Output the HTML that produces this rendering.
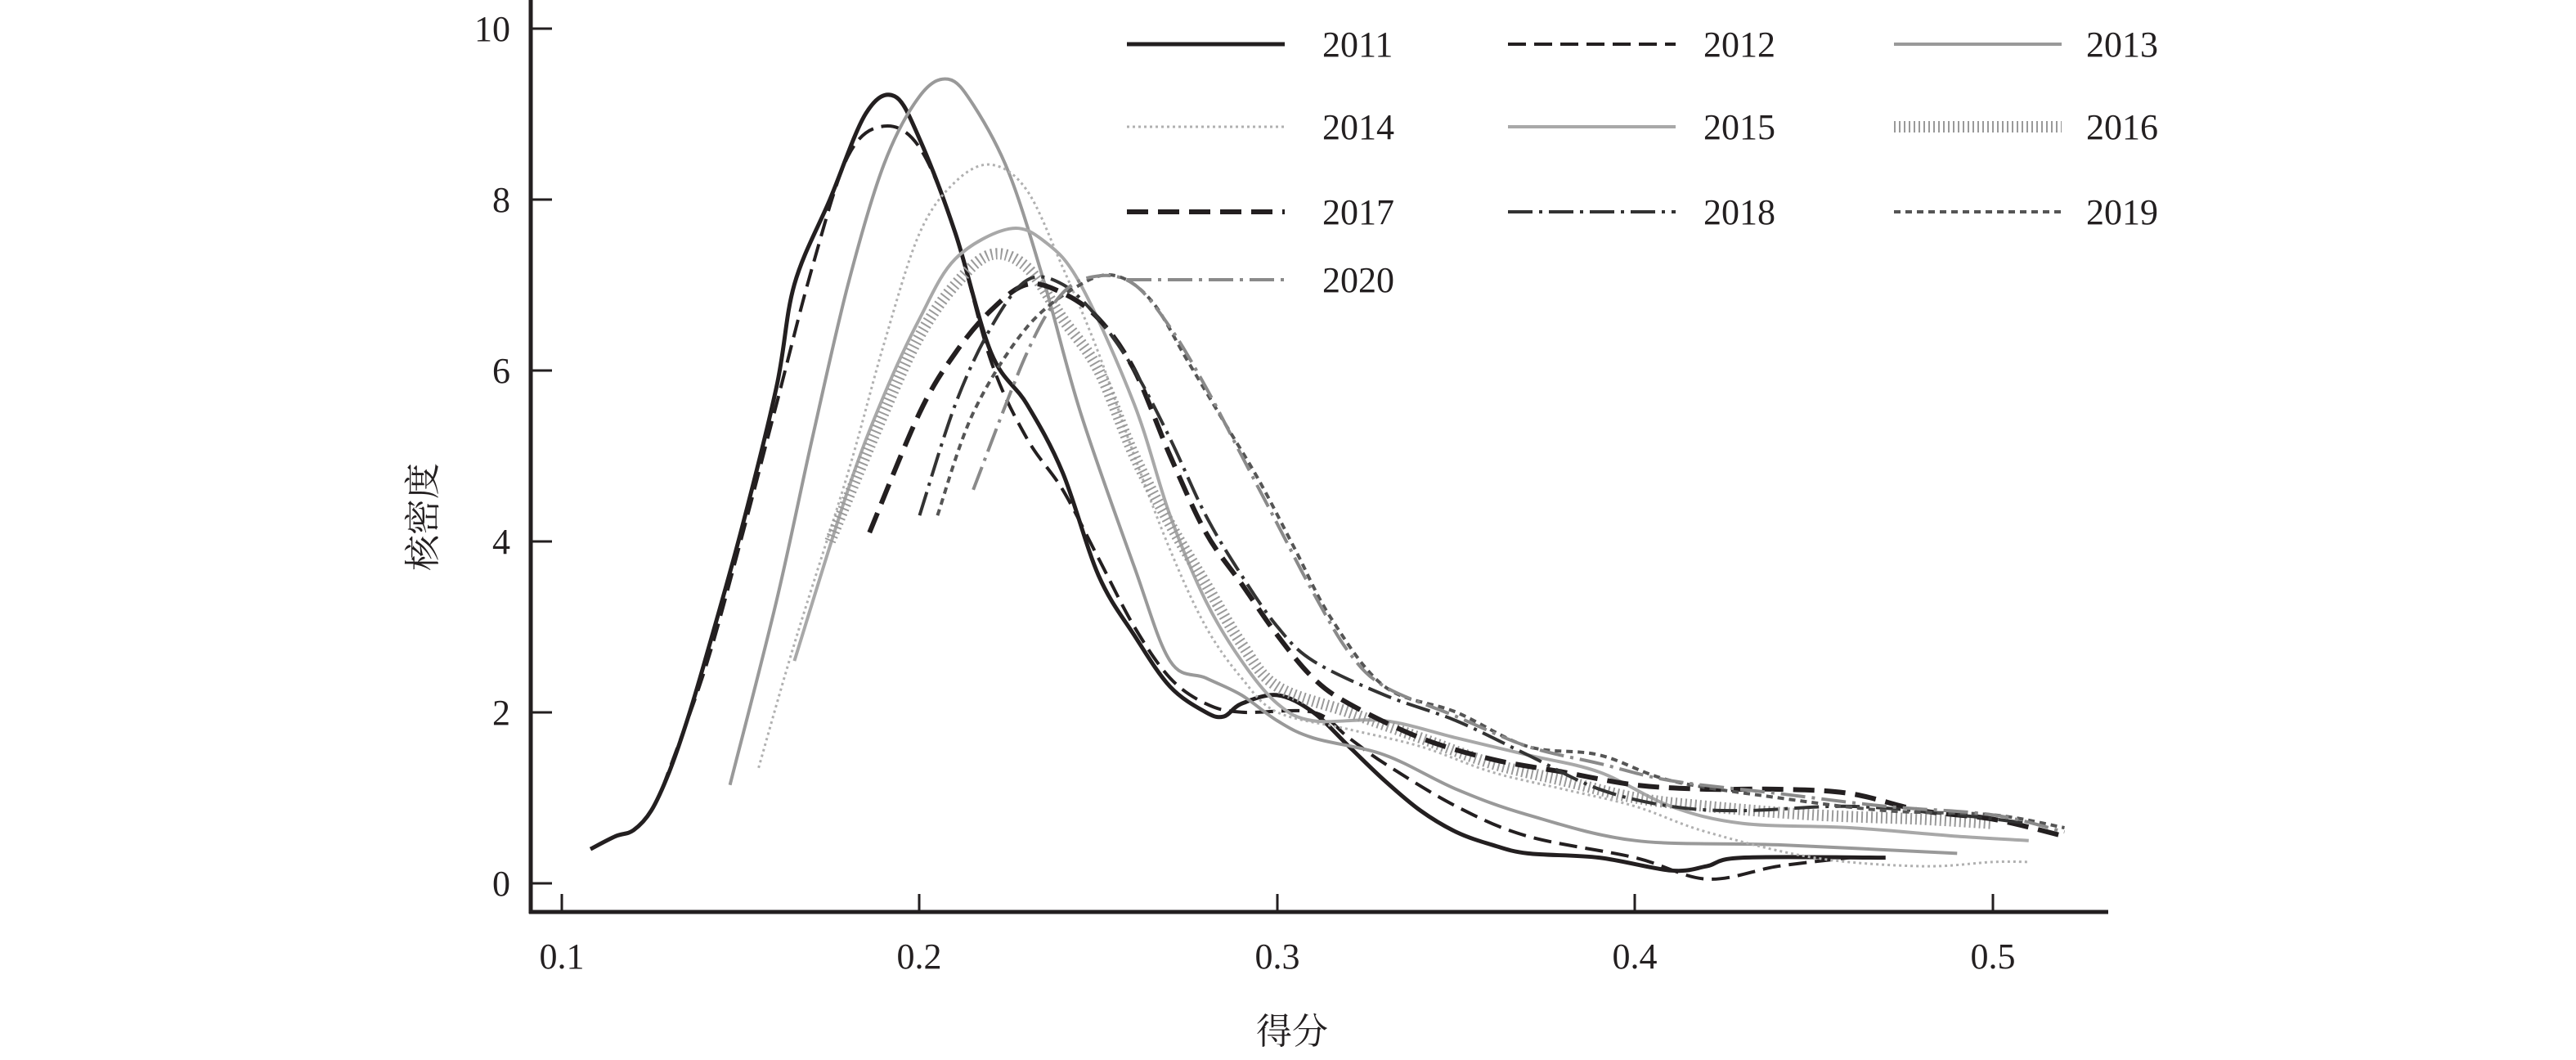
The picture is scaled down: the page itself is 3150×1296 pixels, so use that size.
<!DOCTYPE html>
<html><head><meta charset="utf-8"><style>
html,body{margin:0;padding:0;background:#fff;}
svg{display:block;}
text{font-family:"Liberation Serif","Noto Serif CJK SC",serif;fill:#231f20;}
</style></head><body>
<svg id="s" width="3150" height="1296" viewBox="0 0 3150 1296" xmlns="http://www.w3.org/2000/svg">
<g stroke="#231f20" stroke-width="5" fill="none">
<line x1="649" y1="0" x2="649" y2="1117"/>
<line x1="647" y1="1115" x2="2578" y2="1115"/>
</g>
<g stroke="#231f20" stroke-width="3">
<line x1="649" y1="35" x2="675" y2="35"/>
<line x1="649" y1="244" x2="675" y2="244"/>
<line x1="649" y1="453" x2="675" y2="453"/>
<line x1="649" y1="662" x2="675" y2="662"/>
<line x1="649" y1="871" x2="675" y2="871"/>
<line x1="649" y1="1080" x2="675" y2="1080"/>
<line x1="687" y1="1093" x2="687" y2="1115"/>
<line x1="1124" y1="1093" x2="1124" y2="1115"/>
<line x1="1562" y1="1093" x2="1562" y2="1115"/>
<line x1="1999" y1="1093" x2="1999" y2="1115"/>
<line x1="2437" y1="1093" x2="2437" y2="1115"/>
</g>
<g font-size="44" text-anchor="end">
<text x="624" y="50">10</text>
<text x="624" y="259">8</text>
<text x="624" y="468">6</text>
<text x="624" y="677">4</text>
<text x="624" y="886">2</text>
<text x="624" y="1095">0</text>
</g>
<g font-size="44" text-anchor="middle">
<text x="687" y="1184">0.1</text>
<text x="1124" y="1184">0.2</text>
<text x="1562" y="1184">0.3</text>
<text x="1999" y="1184">0.4</text>
<text x="2437" y="1184">0.5</text>
<text x="1580" y="1276">得分</text>
<text transform="translate(532,632) rotate(-90)">核密度</text>
</g>
<g id="curves" fill="none"></g>
<g id="legend"></g>
</svg>
<script>
var S={
"2011":{c:"#231f20",w:5,d:"",p:[[.108,.4],[.115,.55],[.12,.62],[.125,.85],[.13,1.3],[.135,1.9],[.14,2.6],[.15,4.1],[.16,5.8],[.165,7.0],[.175,8.0],[.185,9.0],[.193,9.2],[.2,8.7],[.21,7.6],[.22,6.2],[.23,5.6],[.24,4.8],[.25,3.6],[.26,2.9],[.27,2.3],[.28,2.0],[.285,1.95],[.29,2.1],[.3,2.2],[.31,2.0],[.32,1.6],[.33,1.2],[.34,.85],[.35,.6],[.36,.45],[.37,.35],[.39,.3],[.41,.15],[.42,.2],[.43,.3],[.47,.3]]},
"2012":{c:"#231f20",w:4,d:"22 10",p:[[.128,1.1],[.14,2.5],[.15,4.0],[.16,5.6],[.17,7.2],[.18,8.5],[.19,8.85],[.2,8.6],[.21,7.6],[.22,6.1],[.23,5.2],[.24,4.6],[.25,3.8],[.26,3.0],[.27,2.4],[.28,2.1],[.29,2.0],[.31,2.0],[.32,1.7],[.33,1.4],[.35,.9],[.37,.55],[.4,.3],[.42,.05],[.44,.2],[.46,.3]]},
"2013":{c:"#999",w:4,d:"",p:[[.147,1.15],[.16,3.3],[.17,5.2],[.18,7.0],[.19,8.4],[.2,9.2],[.208,9.4],[.215,9.1],[.225,8.3],[.235,7.0],[.245,5.5],[.26,3.7],[.27,2.6],[.28,2.4],[.29,2.2],[.3,1.9],[.31,1.7],[.33,1.5],[.35,1.1],[.37,.8],[.4,.5],[.44,.45],[.49,.35]]},
"2014":{c:"#b0b0b0",w:3,d:"3 4",p:[[.155,1.35],[.165,2.8],[.18,4.8],[.19,6.3],[.2,7.6],[.21,8.2],[.22,8.4],[.23,8.1],[.24,7.2],[.25,6.2],[.26,5.0],[.27,3.9],[.28,3.0],[.29,2.4],[.3,2.0],[.32,1.8],[.34,1.6],[.36,1.3],[.38,1.1],[.4,.9],[.42,.6],[.45,.3],[.48,.2],[.5,.25],[.51,.25]]},
"2015":{c:"#a8a8a8",w:4,d:"",p:[[.165,2.6],[.18,4.6],[.19,5.7],[.2,6.6],[.21,7.3],[.225,7.65],[.235,7.5],[.245,7.0],[.26,5.6],[.27,4.3],[.28,3.3],[.29,2.6],[.3,2.1],[.31,1.9],[.33,1.9],[.35,1.7],[.37,1.5],[.39,1.3],[.41,.9],[.43,.7],[.46,.65],[.49,.55],[.51,.5]]},
"2016":{c:"#9a9a9a",w:14,d:"2 4",p:[[.175,4.0],[.19,5.5],[.2,6.4],[.21,7.0],[.22,7.35],[.23,7.2],[.24,6.6],[.25,6.0],[.26,5.0],[.27,4.2],[.28,3.5],[.29,2.8],[.3,2.3],[.32,2.0],[.34,1.7],[.36,1.4],[.38,1.2],[.4,1.0],[.42,.9],[.45,.8],[.48,.75],[.5,.7]]},
"2017":{c:"#231f20",w:6,d:"26 12",p:[[.186,4.1],[.2,5.5],[.21,6.2],[.22,6.7],[.23,7.0],[.24,6.9],[.25,6.6],[.26,6.0],[.27,5.0],[.28,4.1],[.29,3.5],[.3,2.9],[.31,2.4],[.32,2.1],[.34,1.7],[.36,1.45],[.38,1.3],[.4,1.15],[.42,1.1],[.44,1.1],[.46,1.05],[.48,.85],[.5,.75],[.52,.55]]},
"2018":{c:"#333",w:4,d:"30 8 4 8",p:[[.2,4.3],[.21,5.6],[.22,6.5],[.23,7.05],[.24,7.0],[.25,6.6],[.26,6.0],[.27,5.2],[.28,4.3],[.29,3.6],[.3,3.0],[.31,2.6],[.33,2.2],[.35,1.9],[.37,1.5],[.39,1.1],[.41,.9],[.43,.85],[.46,.9],[.49,.8],[.51,.7]]},
"2019":{c:"#555",w:4,d:"8 6",p:[[.205,4.3],[.215,5.5],[.23,6.5],[.245,7.0],[.255,7.1],[.265,6.8],[.275,6.1],[.285,5.4],[.295,4.7],[.305,3.9],[.315,3.1],[.33,2.3],[.35,2.0],[.37,1.6],[.39,1.5],[.41,1.2],[.44,1.0],[.47,.85],[.5,.8],[.52,.65]]},
"2020":{c:"#8a8a8a",w:4,d:"30 8 4 8",p:[[.215,4.6],[.23,6.2],[.24,6.9],[.25,7.1],[.26,7.0],[.27,6.5],[.28,5.8],[.29,5.0],[.3,4.2],[.31,3.4],[.32,2.7],[.33,2.3],[.35,1.95],[.37,1.6],[.39,1.4],[.41,1.2],[.44,1.05],[.47,.9],[.5,.8],[.52,.6]]}
};
function X(x){return 687+(x-.1)*4375;}function Y(d){return 1080-d*104.6;}
var NS="http://www.w3.org/2000/svg",g=document.getElementById("curves"),lg=document.getElementById("legend");
function mk(t,a,par){var e=document.createElementNS(NS,t);for(var k in a)e.setAttribute(k,a[k]);par.appendChild(e);return e;}
for(var k in S){var s=S[k],p=s.p.map(function(q){return[X(q[0]),Y(q[1])];});
var d="M"+p[0][0]+","+p[0][1];
for(var i=0;i<p.length-1;i++){var p0=p[i-1]||p[i],p1=p[i],p2=p[i+1],p3=p[i+2]||p2;
d+=" C"+(p1[0]+(p2[0]-p0[0])/6)+","+(p1[1]+(p2[1]-p0[1])/6)+" "+(p2[0]-(p3[0]-p1[0])/6)+","+(p2[1]-(p3[1]-p1[1])/6)+" "+p2[0]+","+p2[1];}
var a={d:d,stroke:s.c,"stroke-width":s.w,fill:"none","stroke-linejoin":"round"};if(s.d)a["stroke-dasharray"]=s.d;mk("path",a,g);}
var L=[["2011",1378,1571,1617,54],["2012",1844,2049,2083,54],["2013",2316,2521,2551,54],
["2014",1378,1571,1617,155],["2015",1844,2049,2083,155],["2016",2316,2521,2551,155],
["2017",1378,1571,1617,259],["2018",1844,2049,2083,259],["2019",2316,2521,2551,259],["2020",1378,1571,1617,342]];
L.forEach(function(l){var s=S[l[0]];var a={x1:l[1],x2:l[2],y1:l[4],y2:l[4],stroke:s.c,"stroke-width":s.w};if(s.d)a["stroke-dasharray"]=s.d;mk("line",a,lg);
var t=mk("text",{x:l[3],y:l[4]+15,"font-size":"44"},lg);t.textContent=l[0];});
</script>
</body></html>
